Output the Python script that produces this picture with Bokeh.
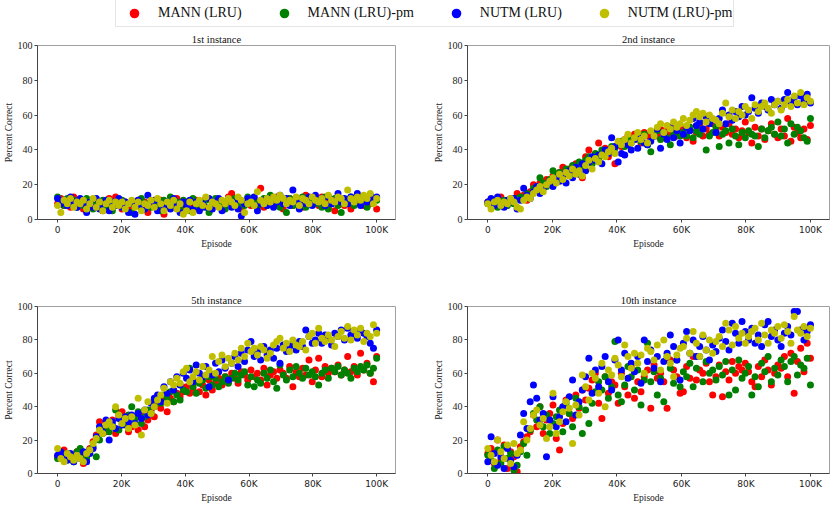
import numpy as np
from bokeh.plotting import figure
from bokeh.layouts import column, row
from bokeh.models import Legend, LegendItem, FixedTicker, Range1d, CustomJSTickFormatter
from bokeh.embed import file_html
from bokeh.resources import INLINE

# ---------------- data ----------------
series_names = ["MANN (LRU)", "MANN (LRU)-pm", "NUTM (LRU)", "NUTM (LRU)-pm"]
series_colors = ["#ff0000", "#008000", "#0000ff", "#bfbf00"]
panel_titles = ["1st instance", "2nd instance", "5th instance", "10th instance"]
x_ticks = [0, 20000, 40000, 60000, 80000, 100000]
x_tick_labels = ["0", "20K", "40K", "60K", "80K", "100K"]
y_ticks = [0, 20, 40, 60, 80, 100]
episode_max = 100000

# 1st instance
p1_mann = [9, 12, 8, 10, 7, 13, 9, 11, 6, 10,
           8, 7, 11, 9, 5, 10, 12, 8, 13, 9,
           6, 10, 8, 5, 9, 11, 7, 10, 4, 8,
           9, 6, 11, 3, 8, 10, 7, 12, 9, 6,
           10, 8, 5, 11, 7, 9, 12, 6, 10, 8,
           11, 7, 9, 13, 15, 8, 10, 6, 9, 11,
           8, 12, 10, 18, 7, 9, 11, 8, 13, 10,
           6, 9, 12, 8, 11, 10, 7, 14, 9, 12,
           10, 8, 13, 11, 7, 9, 5, 12, 10, 8,
           11, 6, 9, 13, 10, 8, 12, 9, 11, 6]
p1_mann_pm = [13, 10, 8, 12, 9, 11, 7, 10, 8, 12,
              9, 6, 10, 8, 11, 7, 9, 5, 10, 8,
              11, 7, 9, 4, 10, 8, 12, 6, 9, 7,
              10, 8, 5, 11, 9, 13, 7, 10, 6, 11,
              9, 5, 12, 8, 10, 7, 11, 4, 9, 12,
              8, 10, 6, 11, 9, 12, 7, 10, 8, 13,
              9, 11, 7, 10, 12, 8, 14, 9, 11, 7,
              10, 4, 12, 8, 11, 9, 13, 7, 10, 12,
              9, 11, 7, 13, 6, 10, 12, 8, 4, 11,
              10, 13, 8, 11, 9, 12, 7, 14, 10, 11]
p1_nutm = [12, 9, 11, 8, 13, 10, 7, 12, 9, 4,
           10, 7, 12, 6, 9, 11, 5, 10, 8, 12,
           7, 10, 4, 9, 3, 11, 8, 6, 14, 9,
           11, 5, 9, 7, 10, 6, 12, 8, 4, 10,
           8, 11, 6, 10, 5, 9, 7, 12, 6, 10,
           12, 5, 9, 11, 7, 10, 6, 2, 9, 12,
           10, 13, 5, 9, 11, 8, 12, 7, 10, 14,
           9, 12, 8, 17, 10, 6, 11, 9, 13, 8,
           14, 10, 12, 8, 13, 9, 11, 15, 10, 12,
           9, 13, 11, 15, 8, 12, 10, 14, 11, 13]
p1_nutm_pm = [8, 4, 11, 9, 12, 7, 10, 9, 11, 6,
              9, 12, 7, 10, 5, 9, 11, 7, 10, 8,
              10, 6, 9, 11, 7, 10, 5, 9, 8, 11,
              7, 12, 9, 5, 10, 8, 11, 6, 9, 3,
              5, 10, 4, 9, 11, 8, 13, 7, 10, 9,
              7, 11, 9, 12, 10, 8, 13, 11, 4, 9,
              10, 8, 16, 11, 9, 12, 10, 13, 11, 14,
              12, 9, 11, 10, 13, 8, 12, 11, 9, 13,
              11, 10, 12, 9, 14, 11, 10, 13, 12, 9,
              17, 12, 10, 13, 11, 14, 12, 15, 9, 12]

# 2nd instance
p2_mann = [10, 9, 11, 8, 13, 10, 9, 12, 11, 15,
           12, 14, 11, 16, 20, 18, 21, 19, 23, 22,
           25, 24, 27, 30, 26, 29, 28, 32, 30, 24,
           36, 40, 33, 35, 44, 38, 41, 36, 39, 32,
           44, 42, 46, 48, 45, 49, 47, 44, 50, 48,
           46, 50, 48, 52, 47, 51, 49, 53, 48, 50,
           52, 47, 53, 45, 50, 54, 48, 52, 49, 55,
           51, 48, 53, 50, 55, 49, 52, 47, 51, 56,
           50, 44, 53, 48, 52, 46, 51, 55, 49, 47,
           52, 48, 58, 45, 53, 50, 47, 52, 46, 54]
p2_mann_pm = [9, 8, 10, 7, 9, 11, 8, 10, 9, 12,
              13, 12, 15, 14, 18, 17, 24, 21, 19, 23,
              28, 25, 27, 23, 29, 26, 31, 28, 33, 30,
              34, 36, 32, 38, 35, 40, 37, 39, 42, 41,
              43, 45, 42, 47, 44, 46, 48, 45, 49, 43,
              39, 48, 51, 46, 50, 47, 43, 49, 52, 48,
              50, 48, 53, 47, 51, 49, 52, 40, 48, 50,
              53, 42, 49, 51, 44, 52, 48, 43, 50, 47,
              51, 49, 48, 42, 52, 47, 51, 53, 49, 56,
              48, 52, 44, 55, 49, 53, 51, 47, 45, 58]
p2_nutm = [10, 12, 8, 13, 9, 7, 11, 10, 12, 6,
           11, 18, 14, 12, 16, 19, 15, 18, 20, 22,
           19, 24, 22, 26, 21, 28, 24, 30, 26, 32,
           28, 33, 36, 34, 37, 32, 40, 38, 47, 42,
           33, 38, 37, 43, 40, 46, 41, 47, 44, 43,
           45, 48, 52, 41, 49, 46, 53, 47, 51, 44,
           49, 53, 51, 58, 54, 56, 52, 59, 55, 57,
           50, 58, 63, 55, 60, 57, 62, 59, 65, 60,
           62, 70, 64, 61, 67, 65, 63, 69, 66, 68,
           64, 69, 73, 67, 70, 66, 71, 68, 72, 67]
p2_nutm_pm = [9, 6, 10, 11, 8, 10, 9, 12, 10, 7,
              6, 11, 13, 12, 15, 17, 19, 16, 20, 22,
              24, 21, 26, 23, 27, 25, 29, 26, 28, 25,
              31, 34, 29, 35, 33, 37, 36, 39, 41, 38,
              45, 43, 46, 49, 44, 47, 50, 46, 48, 44,
              51, 48, 53, 55, 50, 54, 52, 56, 53, 55,
              58, 54, 57, 60, 62, 59, 61, 56, 60, 58,
              57, 55, 61, 67, 59, 63, 58, 62, 60, 65,
              63, 58, 66, 62, 65, 67, 64, 61, 66, 68,
              63, 66, 69, 65, 71, 67, 73, 66, 70, 68]

# 5th instance
p3_mann = [10, 12, 14, 9, 11, 8, 13, 10, 6, 12,
           15, 19, 23, 31, 27, 25, 29, 32, 24, 35,
           37, 30, 25, 28, 33, 26, 35, 28, 32, 38,
           34, 42, 39, 46, 37, 45, 43, 48, 46, 49,
           52, 48, 51, 55, 49, 53, 47, 56, 50, 54,
           57, 53, 58, 55, 60, 57, 54, 61, 59, 56,
           62, 58, 60, 56, 63, 53, 59, 61, 57, 62,
           60, 57, 64, 52, 61, 58, 63, 59, 68, 55,
           62, 69, 58, 64, 60, 63, 61, 65, 59, 62,
           70, 61, 64, 59, 72, 62, 66, 60, 55, 70]
p3_mann_pm = [9, 11, 8, 12, 10, 7, 13, 15, 11, 9,
              14, 16, 10, 20, 24, 27, 25, 29, 38, 26,
              31, 29, 35, 40, 33, 37, 30, 34, 38, 36,
              40, 44, 42, 47, 45, 49, 43, 47, 44, 50,
              49, 63, 52, 48, 54, 56, 51, 58, 53, 57,
              52, 55, 58, 54, 57, 60, 56, 59, 61, 53,
              58, 52, 56, 54, 60, 57, 62, 55, 51, 65,
              59, 56, 62, 58, 64, 60, 57, 63, 59, 61,
              58, 53, 60, 62, 57, 63, 61, 64, 59, 62,
              60, 57, 63, 61, 64, 62, 65, 60, 63, 69]
p3_nutm = [11, 13, 10, 8, 12, 7, 11, 9, 13, 7,
           12, 15, 22, 28, 25, 32, 20, 31, 27, 33,
           29, 34, 31, 35, 30, 36, 33, 38, 35, 42,
           45, 47, 43, 52, 48, 55, 50, 58, 53, 60,
           57, 62, 55, 65, 60, 58, 64, 52, 59, 66,
           61, 68, 63, 56, 66, 70, 64, 72, 67, 74,
           79, 70, 73, 68, 76, 71, 74, 69, 75, 66,
           77, 73, 76, 78, 74, 79, 76, 86, 82, 78,
           80, 84, 78, 83, 81, 77, 84, 82, 86, 80,
           87, 83, 85, 81, 86, 84, 82, 78, 75, 86]
p3_nutm_pm = [15, 9, 7, 12, 10, 8, 11, 9, 7, 12,
              14, 18, 21, 26, 24, 29, 31, 28, 40, 35,
              30, 33, 27, 34, 29, 45, 23, 38, 43, 36,
              40, 44, 47, 51, 42, 55, 53, 57, 54, 61,
              63, 55, 58, 61, 56, 64, 59, 62, 70, 60,
              67, 71, 64, 69, 66, 72, 68, 75, 70, 78,
              73, 75, 71, 76, 74, 69, 72, 77, 79, 81,
              75, 78, 73, 80, 77, 76, 79, 74, 82, 84,
              78, 87, 81, 79, 83, 80, 76, 82, 85, 81,
              88, 80, 86, 83, 87, 79, 84, 82, 89, 84]

# 10th instance
p4_mann = [12, 15, 6, 20, 8, 17, 3, 13, 10, 1,
           16, 19, 22, 25, 35, 28, 40, 24, 32, 36,
           41, 21, 14, 30, 44, 36, 33, 47, 39, 50,
           44, 51, 56, 60, 42, 33, 58, 48, 55, 53,
           42, 60, 52, 47, 64, 45, 55, 49, 58, 62,
           39, 65, 57, 60, 55, 39, 68, 62, 58, 48,
           49, 64, 57, 70, 56, 62, 60, 66, 55, 47,
           58, 65, 46, 61, 56, 67, 60, 64, 62, 66,
           61, 55, 52, 64, 58, 68, 62, 53, 60, 65,
           63, 70, 58, 72, 48, 67, 75, 61, 78, 69]
p4_mann_pm = [11, 8, 3, 14, 6, 16, 9, 12, 2, 5,
              13, 18, 11, 26, 36, 32, 40, 28, 35, 24,
              30, 34, 38, 25, 42, 36, 28, 45, 40, 24,
              38, 30, 42, 49, 55, 50, 58, 45, 52, 79,
              47, 43, 53, 64, 58, 50, 62, 41, 56, 78,
              55, 61, 47, 57, 43, 70, 63, 54, 68, 52,
              61, 58, 66, 52, 63, 70, 55, 67, 60, 62,
              56, 64, 59, 67, 47, 62, 50, 68, 57, 60,
              64, 47, 58, 52, 66, 61, 70, 55, 63, 59,
              68, 64, 55, 67, 70, 59, 65, 63, 69, 53]
p4_nutm = [7, 22, 12, 5, 10, 3, 15, 8, 4, 11,
           23, 36, 27, 43, 53, 45, 32, 36, 10, 32,
           46, 28, 34, 40, 31, 46, 56, 35, 43, 50,
           58, 69, 48, 62, 52, 64, 70, 55, 50, 68,
           80, 62, 72, 57, 66, 61, 70, 54, 80, 67,
           74, 63, 70, 55, 67, 72, 83, 76, 68, 56,
           78, 85, 72, 80, 70, 76, 82, 74, 68, 77,
           73, 81, 86, 79, 74, 90, 84, 78, 91, 85,
           80, 87, 78, 83, 76, 89, 91, 82, 86, 80,
           76, 84, 88, 83, 97, 97, 86, 80, 85, 89]
p4_nutm_pm = [15, 11, 7, 20, 13, 9, 17, 6, 18, 12,
              14, 31, 20, 27, 35, 38, 29, 33, 21, 28,
              48, 24, 31, 37, 43, 39, 18, 41, 35, 59,
              52, 44, 60, 57, 48, 66, 40, 62, 59, 69,
              65, 58, 77, 70, 63, 72, 66, 71, 60, 75,
              73, 68, 77, 62, 80, 70, 66, 58, 71, 75,
              76, 81, 72, 85, 78, 70, 83, 74, 80, 72,
              79, 82, 76, 90, 86, 77, 88, 81, 84, 78,
              82, 85, 87, 80, 90, 83, 78, 86, 84, 88,
              81, 89, 85, 78, 94, 86, 84, 88, 82, 87]

panel_series = [
    [p1_mann, p1_mann_pm, p1_nutm, p1_nutm_pm],
    [p2_mann, p2_mann_pm, p2_nutm, p2_nutm_pm],
    [p3_mann, p3_mann_pm, p3_nutm, p3_nutm_pm],
    [p4_mann, p4_mann_pm, p4_nutm, p4_nutm_pm],
]

# ---------------- styling ----------------
SERIF = "Liberation Serif"
AXIS_COL = "#444444"


def make_panel(title, series, width, height, bl, br, bt, bb):
    p = figure(width=width, height=height, title=title,
               x_range=Range1d(-6300, 105900), y_range=Range1d(0, 100),
               toolbar_location=None, output_backend="svg",
               min_border_left=bl, min_border_right=br,
               min_border_top=bt, min_border_bottom=bb)
    p.title.text_font = SERIF
    p.title.text_font_size = "10.5px"
    p.title.text_font_style = "normal"
    p.title.text_color = "#111111"
    p.title.align = "center"
    p.title.standoff = 2
    p.grid.visible = False
    p.outline_line_color = "#a0a0a0"
    p.background_fill_color = "white"
    p.border_fill_color = "white"
    for vals, col in zip(series, series_colors):
        xs = np.linspace(0, episode_max, len(vals))
        p.scatter(xs, vals, size=7, fill_color=col, line_color=None)
    p.xaxis.ticker = FixedTicker(ticks=x_ticks)
    p.xaxis.formatter = CustomJSTickFormatter(
        args=dict(tick_pos=x_ticks, tick_txt=x_tick_labels),
        code="const i = tick_pos.indexOf(tick); return i >= 0 ? tick_txt[i] : '';")
    p.yaxis.ticker = FixedTicker(ticks=y_ticks)
    p.xaxis.axis_label = "Episode"
    p.yaxis.axis_label = "Percent Correct"
    p.axis.axis_label_text_font = SERIF
    p.axis.axis_label_text_font_size = "9.5px"
    p.axis.axis_label_text_font_style = "normal"
    p.axis.axis_label_text_color = "#222222"
    p.axis.major_label_text_color = "#222222"
    p.xaxis.major_label_text_font = "DejaVu Sans"
    p.xaxis.major_label_text_font_size = "9px"
    p.yaxis.major_label_text_font = SERIF
    p.yaxis.major_label_text_font_size = "10px"
    p.axis.major_tick_out = 3
    p.axis.major_tick_in = 0
    p.axis.minor_tick_out = 0
    p.axis.minor_tick_in = 0
    p.axis.axis_line_color = AXIS_COL
    p.axis.major_tick_line_color = AXIS_COL
    p.axis.major_label_standoff = 2
    p.axis.axis_label_standoff = 1
    return p


p1 = make_panel(panel_titles[0], panel_series[0], 430, 232, 33, 35, 15, 43)
p2 = make_panel(panel_titles[1], panel_series[1], 400, 232, 37, 1, 15, 43)
p3 = make_panel(panel_titles[2], panel_series[2], 430, 243, 33, 35, 44, 28)
p4 = make_panel(panel_titles[3], panel_series[3], 400, 243, 37, 1, 44, 28)

# legend strip
lf = figure(width=830, height=30, toolbar_location=None, output_backend="svg",
            x_range=Range1d(0, 1), y_range=Range1d(0, 1), min_border=0,
            x_axis_location=None, y_axis_location=None)
lf.grid.visible = False
lf.outline_line_color = None
items = []
for name, col in zip(series_names, series_colors):
    r = lf.scatter(x=[np.nan], y=[np.nan], size=7, fill_color=col, line_color=None)
    items.append(LegendItem(label=name, renderers=[r]))
leg = Legend(items=items, orientation="horizontal", location=(115, 3),
             glyph_width=34, glyph_height=24, label_height=24,
             label_standoff=7, spacing=25, padding=1, margin=0,
             label_text_font=SERIF, label_text_font_size="14px",
             label_text_color="#111111",
             border_line_color="#cccccc", border_line_width=1,
             background_fill_color="white")
lf.add_layout(leg, "center")

layout = column(lf, row(p1, p2), row(p3, p4))

open("out.html", "w").write(file_html(layout, INLINE))
